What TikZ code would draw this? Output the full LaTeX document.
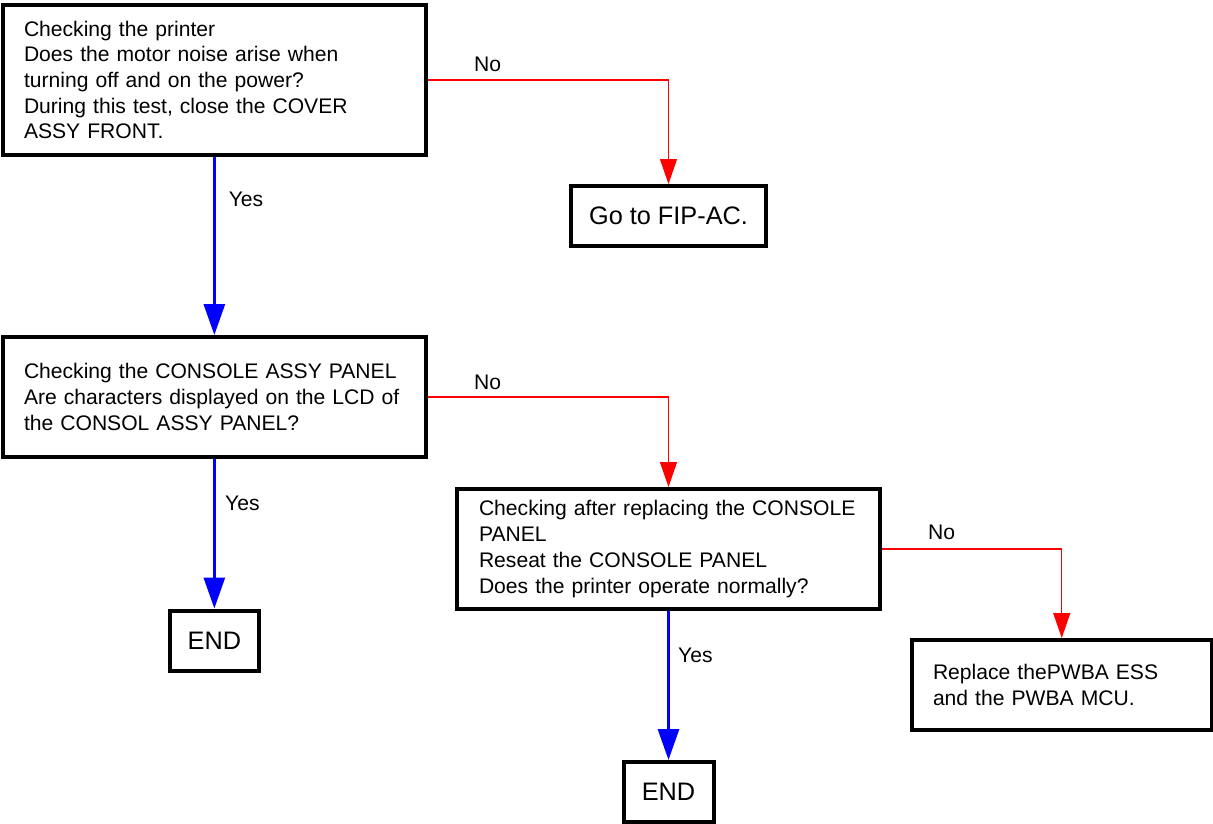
\documentclass[tikz,border=0pt]{standalone}
\usepackage{fontspec}
\setmainfont{Liberation Sans}
\usetikzlibrary{arrows.meta}
\begin{document}
\begin{tikzpicture}[x=1pt,y=-1pt,
  box/.style={draw=black, line width=4pt, rectangle, inner ysep=0pt, align=left,
    font=\fontsize{21.1}{25.7}\selectfont},
  bigbox/.style={draw=black, line width=4pt, rectangle, inner sep=0pt, align=center,
    font=\fontsize{25.3}{30}\selectfont},
  lbl/.style={anchor=base west, inner sep=0pt, font=\fontsize{21.1}{25.7}\selectfont},
  noarrow/.style={draw=red, line width=1.2pt, -{Triangle[length=25pt,width=17pt]}},
  yesarrow/.style={draw=blue, line width=3pt, -{Triangle[length=31pt,width=21pt]}},
]
\useasboundingbox (0,0) rectangle (1213,823);

% boxes
\node[box, inner xsep=21.3pt, text width=380.7pt, minimum width=423.3pt, minimum height=149.4pt] (b1) at (214.35,80)
  {\mbox{Checking the printer}\\\mbox{Does the motor noise arise when}\\\mbox{turning off and on the power?}\\\mbox{During this test, close the COVER}\\\mbox{ASSY FRONT.}};
\node[bigbox, minimum width=195pt, minimum height=60pt] (fip) at (668.5,216) {Go to FIP-AC.};
\node[box, inner xsep=21.3pt, text width=380.7pt, minimum width=423.3pt, minimum height=120pt] (b2) at (214.35,397)
  {\mbox{Checking the CONSOLE ASSY PANEL}\\\mbox{Are characters displayed on the LCD of}\\\mbox{the CONSOL ASSY PANEL?}};
\node[box, inner xsep=22pt, text width=379pt, minimum width=423pt, minimum height=120pt] (b3) at (668.5,549)
  {\mbox{Checking after replacing the CONSOLE}\\\mbox{PANEL}\\\mbox{Reseat the CONSOLE PANEL}\\\mbox{Does the printer operate normally?}};
\node[bigbox, minimum width=89pt, minimum height=60pt] (end1) at (214.35,640.5) {END};
\node[bigbox, minimum width=90pt, minimum height=60pt] (end2) at (668.5,792) {END};
\node[box, inner xsep=21.5pt, text width=257.5pt, minimum width=300.5pt, minimum height=90pt] (b4) at (1061.75,685)
  {\mbox{Replace thePWBA ESS}\\\mbox{and the PWBA MCU.}};

% connectors
\draw[noarrow] (b1.east) -| (fip.north);
\draw[noarrow] (b2.east) -| (b3.north);
\draw[noarrow] (b3.east) -| (b4.north);
\draw[yesarrow] (b1.south) -- (b2.north);
\draw[yesarrow] (b2.south) -- (end1.north);
\draw[yesarrow] (b3.south) -- (end2.north);

% labels
\node[lbl] (no1) at (474,71) {No};
\node[lbl] (no2) at (474,389) {No};
\node[lbl] (no3) at (928,539) {No};
\node[lbl] (yes1) at (228.6,206.7) {Yes};
\node[lbl] (yes2) at (225,510) {Yes};
\node[lbl] (yes3) at (678,662) {Yes};
\end{tikzpicture}
\end{document}
